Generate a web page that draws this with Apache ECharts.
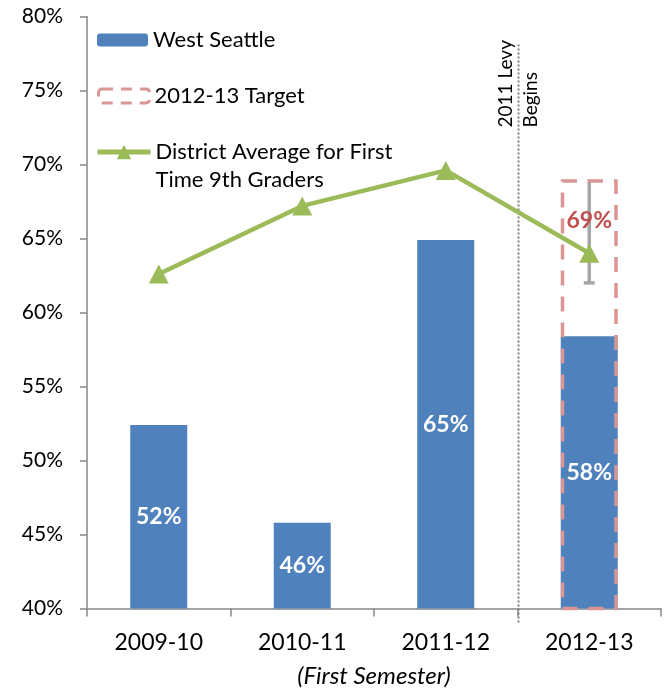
<!DOCTYPE html>
<html>
<head>
<meta charset="utf-8">
<script src="https://cdn.jsdelivr.net/npm/echarts@6/dist/echarts.min.js"></script>
<style>
  html, body { margin: 0; padding: 0; background: #fff; }
  #chart { width: 668px; height: 692px; }
</style>
</head>
<body>
<div id="chart"></div>
<script>
// School years (first semester)
const categories = ['2009-10', '2010-11', '2011-12', '2012-13'];
// West Seattle on-track rate, %
const westSeattle = [52.4, 45.8, 64.9, 58.4];
// District average for first time 9th graders, %
const districtAverage = [62.6, 67.2, 69.6, 64.0];
// 2012-13 target, %
const target = [null, null, null, 69];
// Target range for 2012-13 (low, high), %
const targetRange = [62, 69];
const targetIndex = 3;
// Y axis ticks
const yMin = 40, yMax = 80, yStep = 5;

const FONT = 'Lato, "Open Sans", sans-serif';
const axisGray = '#868686';

const chart = echarts.init(document.getElementById('chart'), null, { renderer: 'canvas' });

const legendText = { fontFamily: FONT, fontSize: 22, color: '#000', lineHeight: 28 };

const option = {
  animation: false,
  backgroundColor: '#ffffff',
  textStyle: { fontFamily: FONT },
  grid: { left: 87, right: 7, top: 16.5, bottom: 83.5, containLabel: false, outerBoundsMode: 'none' },
  legend: [
    {
      data: [{ name: 'West Seattle' }],
      left: 97, top: 26, padding: 0,
      itemWidth: 51, itemHeight: 13,
      textStyle: legendText,
      selectedMode: false
    },
    {
      data: [{
        name: '2012-13 Target',
        itemStyle: { color: 'transparent', borderColor: '#d99694', borderWidth: 3, borderType: [11, 8] }
      }],
      left: 97, top: 82, padding: 0,
      itemWidth: 51, itemHeight: 14,
      textStyle: legendText,
      selectedMode: false
    },
    {
      // leading blank line keeps the icon level with the first text line
      data: [{ name: 'District Average for First\nTime 9th Graders' }],
      formatter: name => '\n' + name,
      left: 95, top: 110, padding: 0,
      itemWidth: 53, itemHeight: 18,
      lineStyle: { width: 5 },
      textStyle: legendText,
      selectedMode: false
    }
  ],
  xAxis: {
    type: 'category',
    data: categories,
    boundaryGap: true,
    name: '(First Semester)',
    nameLocation: 'middle',
    nameGap: 56,
    nameTextStyle: { fontFamily: FONT, fontSize: 24, fontStyle: 'italic', color: '#000' },
    axisLine: { show: true, lineStyle: { color: axisGray, width: 1.5 } },
    axisTick: { show: true, length: 8, alignWithLabel: false, lineStyle: { color: axisGray, width: 1.5 } },
    axisLabel: { fontFamily: FONT, fontSize: 23, color: '#000', margin: 23 },
    splitLine: { show: false }
  },
  yAxis: {
    type: 'value',
    min: yMin, max: yMax, interval: yStep,
    axisLine: { show: true, lineStyle: { color: axisGray, width: 1.5 } },
    axisTick: { show: true, length: 7, lineStyle: { color: axisGray, width: 1.5 } },
    axisLabel: { fontFamily: FONT, fontSize: 21, color: '#000', margin: 24, formatter: '{value}%' },
    splitLine: { show: false }
  },
  series: [
    {
      name: 'West Seattle',
      type: 'bar',
      data: westSeattle,
      barWidth: 57,
      barGap: '-100%',
      z: 2,
      itemStyle: { color: '#4f81bd' },
      label: {
        show: true, position: 'inside',
        fontFamily: FONT, fontSize: 23, fontWeight: 'bold', color: '#fff',
        formatter: p => Math.round(p.value) + '%'
      }
    },
    {
      name: '2012-13 Target',
      type: 'bar',
      data: target,
      barWidth: 57,
      barGap: '-100%',
      z: 4,
      itemStyle: { color: 'transparent', borderColor: '#d99694', borderWidth: 3.5, borderType: [15, 11] },
      label: {
        show: true, position: 'insideTop', distance: 30,
        fontFamily: FONT, fontSize: 23, fontWeight: 'bold', color: '#c0504d',
        formatter: p => (p.value == null ? '' : Math.round(p.value) + '%')
      }
    },
    {
      name: 'Target Range',
      type: 'custom',
      z: 3,
      data: [[targetIndex, targetRange[0], targetRange[1]]],
      encode: { x: 0, y: [1, 2] },
      renderItem: function (params, api) {
        const lo = api.coord([api.value(0), api.value(1)]);
        const hi = api.coord([api.value(0), api.value(2)]);
        const half = 5.5;
        const style = { stroke: '#a6a6a6', lineWidth: 3.5 };
        return {
          type: 'group',
          children: [
            { type: 'line', shape: { x1: lo[0], y1: lo[1], x2: hi[0], y2: hi[1] }, style },
            { type: 'line', shape: { x1: lo[0] - half, y1: lo[1], x2: lo[0] + half, y2: lo[1] }, style }
          ]
        };
      }
    },
    {
      name: 'District Average for First\nTime 9th Graders',
      type: 'line',
      data: districtAverage,
      z: 5,
      symbol: 'triangle',
      symbolSize: [20, 19],
      showAllSymbol: true,
      lineStyle: { color: '#9bbb59', width: 4.5 },
      itemStyle: { color: '#9bbb59' }
    }
  ]
};

chart.setOption(option);

// Dotted divider between 2011-12 and 2012-13 marking the start of the levy
const xLeft = chart.convertToPixel({ xAxisIndex: 0 }, categories[2]);
const xRight = chart.convertToPixel({ xAxisIndex: 0 }, categories[3]);
const xDivider = Math.round((xLeft + xRight) / 2) + 0.5;
const yTop = chart.convertToPixel({ yAxisIndex: 0 }, 78.1);
const yBase = chart.convertToPixel({ yAxisIndex: 0 }, yMin);
const yTextStart = chart.convertToPixel({ yAxisIndex: 0 }, 72.5);

chart.setOption({
  graphic: [
    {
      type: 'line',
      z: 1,
      shape: { x1: xDivider, y1: yTop, x2: xDivider, y2: yBase + 14 },
      style: { stroke: '#7f7f7f', lineWidth: 2, lineDash: [2, 2] }
    },
    {
      type: 'text',
      z: 6,
      x: xDivider,
      y: yTextStart,
      rotation: Math.PI / 2,
      style: {
        text: '2011 Levy\nBegins',
        fontFamily: FONT, fontSize: 19, fill: '#000',
        lineHeight: 25,
        align: 'left', verticalAlign: 'middle'
      }
    }
  ]
});
</script>
</body>
</html>
